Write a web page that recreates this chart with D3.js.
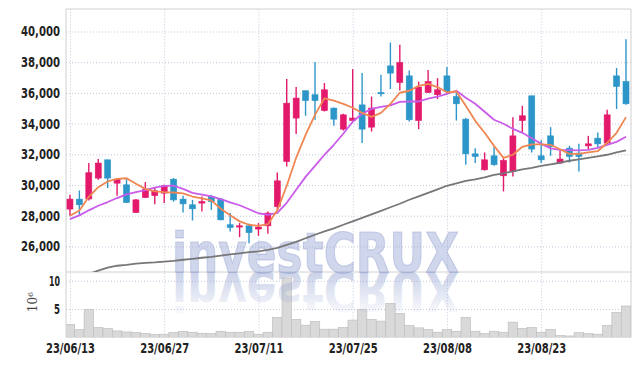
<!DOCTYPE html>
<html>
<head>
<meta charset="utf-8">
<script src="https://cdn.jsdelivr.net/npm/d3@7"></script>
<style>
html, body { margin: 0; padding: 0; background: #fff; }
svg { display: block; }
</style>
</head>
<body>
<svg id="chart" width="639" height="366"></svg>
<script>
// trading days (yy/mm/dd)
var dates = ["23/06/13","23/06/14","23/06/15","23/06/16","23/06/19","23/06/20","23/06/21","23/06/22","23/06/23","23/06/26",
  "23/06/27","23/06/28","23/06/29","23/06/30","23/07/03","23/07/04","23/07/05","23/07/06","23/07/07","23/07/10",
  "23/07/11","23/07/12","23/07/13","23/07/14","23/07/17","23/07/18","23/07/19","23/07/20","23/07/21","23/07/24",
  "23/07/25","23/07/26","23/07/27","23/07/28","23/07/31","23/08/01","23/08/02","23/08/03","23/08/04","23/08/07",
  "23/08/08","23/08/09","23/08/10","23/08/11","23/08/14","23/08/16","23/08/17","23/08/18","23/08/21","23/08/22",
  "23/08/23","23/08/24","23/08/25","23/08/28","23/08/29","23/08/30","23/08/31","23/09/01","23/09/04","23/09/05"];

var opens = [28430,29080,29090,30450,31640,30120,30010,28210,29180,29310,
  29470,30380,29080,28710,28820,29250,29080,27410,27260,27340,
  27130,27340,28600,31530,34360,36140,35880,34850,35010,33640,
  34200,35220,33770,36030,37760,36680,37110,34200,36030,35880,
  37110,35760,34290,32030,30990,31900,30600,30880,34200,35810,
  31900,33200,31430,32400,32080,32550,33050,32730,37110,36740];
var highs = [29360,29640,31430,31690,31640,30450,30380,29080,30190,29800,
  30010,30450,29300,29030,29250,29360,29150,28170,27520,27470,
  27520,28270,30810,36900,36380,36140,38010,36640,35050,34640,
  37550,37290,35760,37180,39280,39130,37460,36740,37500,36960,
  37680,36090,34360,32400,32120,32510,31750,34420,35160,35810,
  32920,33770,32250,32550,32680,33200,33420,34900,37620,39500];
var lows = [28000,28060,28990,30340,29800,29300,28820,28170,29150,28750,
  28820,28920,28210,27690,28270,28380,27700,26970,26600,26210,
  26690,26820,28380,31200,33330,34510,34250,34790,33860,33550,
  34200,32730,33480,35760,36250,36160,34140,33640,35990,35600,
  35880,34200,31320,31430,30940,31250,29580,30550,33420,32120,
  31430,31900,31380,31460,30880,32300,32470,32620,34950,35220];
var closes = [29080,28710,30800,31430,30450,30380,28860,29030,29730,29620,
  29950,29030,28770,28450,28920,28920,27730,27230,27340,26900,
  27260,28170,30270,35330,35660,35500,35500,36200,34290,34570,
  34360,33640,35010,35940,37290,37980,34250,36380,36740,36200,
  36090,35290,32030,31860,31640,31320,31600,33200,34510,32340,
  31640,32510,31690,31860,31860,32680,32680,34570,36420,35290];

// volume, millions of shares
var volumes = [2.27,1.37,4.95,1.73,1.55,1.13,0.95,0.83,0.66,0.48,
  0.54,0.83,1.01,0.89,0.71,0.66,1.07,0.89,0.89,1.07,
  0.54,0.89,3.51,10.5,3.15,2.14,2.8,1.43,1.43,1.73,
  3.04,4.95,3.15,2.86,6.0,4.23,2.08,1.67,1.37,0.89,
  1.37,1.07,3.51,1.07,0.66,1.07,0.89,2.68,1.55,1.73,
  0.89,1.37,0.3,0.24,0.83,0.66,0.54,2.08,4.4,5.54];

// moving averages
var ma5 = [28000,28340,29230,29860,30230,30400,30440,30080,29750,29590,
  29540,29510,29460,29250,29130,29000,28450,28030,27630,27410,
  27340,27450,28350,29950,31770,33270,34570,35650,35490,35290,
  35030,34700,34440,34700,35290,36010,36140,36460,36590,36380,
  36040,36090,35160,34180,33400,32550,31770,31970,32490,32650,
  32650,32620,32330,32030,32030,32120,32200,32750,33400,34420];
var ma20 = [27780,28020,28350,28650,28890,29150,29390,29540,29670,29830,
  29940,29950,29750,29490,29370,29260,29080,28870,28680,28420,
  28160,28060,28190,28840,29690,30530,31250,31970,32620,33340,
  34120,34640,34960,35090,35190,35420,35440,35440,35620,35750,
  35940,36140,35680,35290,34770,34250,33990,33660,33400,33040,
  32680,32390,32290,32270,32260,32290,32420,32620,32810,33140];
var ma60 = [23900,24050,24200,24420,24610,24740,24800,24880,24930,24960,
  25010,25060,25130,25190,25260,25320,25400,25480,25550,25620,
  25680,25780,25910,26100,26300,26530,26760,26980,27180,27410,
  27630,27860,28090,28320,28550,28780,29040,29260,29490,29720,
  29950,30110,30270,30370,30500,30660,30760,30890,31020,31120,
  31250,31350,31450,31580,31670,31770,31870,31970,32130,32260];

var priceTicks = [26000,28000,30000,32000,34000,36000,38000,40000];
var volTicks = [5,10];
var dateTicks = [0,10,20,30,40,50];

var svg = d3.select("#chart");
var L = 66, R = 631, T = 9, M = 272, B = 337.3;
var upCol = "#e3196b", downCol = "#2c96c9";
var gridCol = "#c3c8dc";
var fontFam = '"DejaVu Sans Condensed","DejaVu Sans",sans-serif';

var x = d3.scaleLinear().domain([-0.42, 59.53]).range([L, R]);
var y = d3.scaleLinear().domain([24332, 41466]).range([M, T]);
var yv = d3.scaleLinear().domain([0, 11.55]).range([B, M]);
var step = x(1) - x(0);

var defs = svg.append("defs");
defs.append("clipPath").attr("id", "clipPrice")
  .append("rect").attr("x", L).attr("y", T).attr("width", R - L).attr("height", M - T);
defs.append("clipPath").attr("id", "clipVol")
  .append("rect").attr("x", L).attr("y", M).attr("width", R - L).attr("height", B - M);
var grad = defs.append("linearGradient").attr("id", "refl")
  .attr("gradientUnits", "userSpaceOnUse")
  .attr("x1", 0).attr("x2", 0).attr("y1", 225).attr("y2", 272);
grad.append("stop").attr("offset", 0).attr("stop-color", "rgb(150,165,210)").attr("stop-opacity", 0);
grad.append("stop").attr("offset", 1).attr("stop-color", "rgb(150,165,210)").attr("stop-opacity", 0.5);

// axes with grid lines
function styleAxis(g, len) {
  g.select(".domain").remove();
  g.selectAll("line").attr("stroke", gridCol).attr("stroke-dasharray", "1,2");
  g.selectAll("text")
    .attr("font-family", fontFam).attr("font-weight", "bold")
    .attr("font-size", 14).attr("fill", "#222")
    .attr("lengthAdjust", "spacingAndGlyphs")
    .attr("textLength", function(d) { return len(d); });
}

svg.append("g").attr("transform", "translate(" + L + ",0)")
  .call(d3.axisLeft(y).tickValues(priceTicks).tickSize(-(R - L)).tickPadding(6).tickFormat(d3.format(",")))
  .call(styleAxis, function() { return 39; });

svg.append("g").attr("transform", "translate(" + L + ",0)")
  .call(d3.axisLeft(yv).tickValues(volTicks).tickSize(-(R - L)).tickPadding(6))
  .call(styleAxis, function(d) { return d >= 10 ? 11 : 6; });

svg.append("g").attr("transform", "translate(0," + B + ")")
  .call(d3.axisBottom(x).tickValues(dateTicks).tickSize(-(B - T)).tickPadding(6).tickFormat(function(i) { return dates[i]; }))
  .call(styleAxis, function() { return 49; });

// frame
var frame = svg.append("g").attr("stroke", "#d0d0d0").attr("stroke-width", 1);
frame.append("line").attr("x1", L).attr("x2", R).attr("y1", T).attr("y2", T);
frame.append("line").attr("x1", L).attr("x2", R).attr("y1", M).attr("y2", M);
frame.append("line").attr("x1", L).attr("x2", R).attr("y1", B).attr("y2", B).attr("stroke", "#e2e2e2");
frame.append("line").attr("x1", L).attr("x2", L).attr("y1", T).attr("y2", B);
frame.append("line").attr("x1", R).attr("x2", R).attr("y1", T).attr("y2", B);

// volume unit label
svg.append("text")
  .attr("transform", "translate(37,302) rotate(-90)")
  .attr("text-anchor", "middle")
  .attr("font-family", '"DejaVu Serif",serif').attr("font-size", 12).attr("fill", "#444")
  .text("10")
  .append("tspan").attr("baseline-shift", "super").attr("font-size", 8).text("6");

// volume bars
svg.append("g").attr("clip-path", "url(#clipVol)")
  .selectAll("rect").data(volumes).enter().append("rect")
  .attr("x", function(d, i) { return x(i) - step / 2; })
  .attr("width", step)
  .attr("y", function(d) { return yv(d); })
  .attr("height", function(d) { return B - yv(d); })
  .attr("fill", "#d9d9d9").attr("stroke", "#bfbfbf").attr("stroke-width", 0.7);

// watermark, its reflection re-uses the same text through <use>
var wm = svg.append("g")
  .attr("fill", "rgb(150,165,210)").attr("fill-opacity", 0.45)
  .attr("stroke", "rgb(150,165,210)").attr("stroke-opacity", 0.45).attr("stroke-width", 1.2);
wm.append("text").attr("id", "wmText").attr("x", 172).attr("y", M)
  .attr("font-family", '"DejaVu Sans",sans-serif').attr("font-weight", "bold").attr("font-size", 55)
  .attr("textLength", 287).attr("lengthAdjust", "spacingAndGlyphs")
  .text("investCRUX");
svg.append("g").attr("clip-path", "url(#clipVol)")
  .append("use").attr("href", "#wmText")
  .attr("transform", "translate(0," + (2 * M) + ") scale(1,-1)")
  .attr("fill", "url(#refl)").attr("fill-opacity", 1).attr("stroke", "none");

// candles
var candles = svg.append("g").attr("clip-path", "url(#clipPrice)")
  .selectAll("g").data(opens).enter().append("g")
  .attr("fill", function(d, i) { return closes[i] >= opens[i] ? upCol : downCol; })
  .attr("stroke", function(d, i) { return closes[i] >= opens[i] ? upCol : downCol; });
candles.append("line")
  .attr("x1", function(d, i) { return x(i); }).attr("x2", function(d, i) { return x(i); })
  .attr("y1", function(d, i) { return y(highs[i]); })
  .attr("y2", function(d, i) { return y(lows[i]); })
  .attr("stroke-width", 1.4);
candles.append("rect")
  .attr("x", function(d, i) { return x(i) - 3; })
  .attr("width", 6)
  .attr("y", function(d, i) { return y(Math.max(opens[i], closes[i])); })
  .attr("height", function(d, i) { return Math.max(1.2, Math.abs(y(opens[i]) - y(closes[i]))); })
  .attr("stroke-width", 0.6);

// moving average lines
var line = d3.line().x(function(d, i) { return x(i); }).y(function(d) { return y(d); });
var lines = svg.append("g").attr("clip-path", "url(#clipPrice)").attr("fill", "none")
  .attr("stroke-width", 1.8).attr("stroke-linejoin", "round");
lines.append("path").datum(ma60).attr("d", line).attr("stroke", "#777");
lines.append("path").datum(ma20).attr("d", line).attr("stroke", "#c95ce8");
lines.append("path").datum(ma5).attr("d", line).attr("stroke", "#ef8753");
</script>
</body>
</html>
